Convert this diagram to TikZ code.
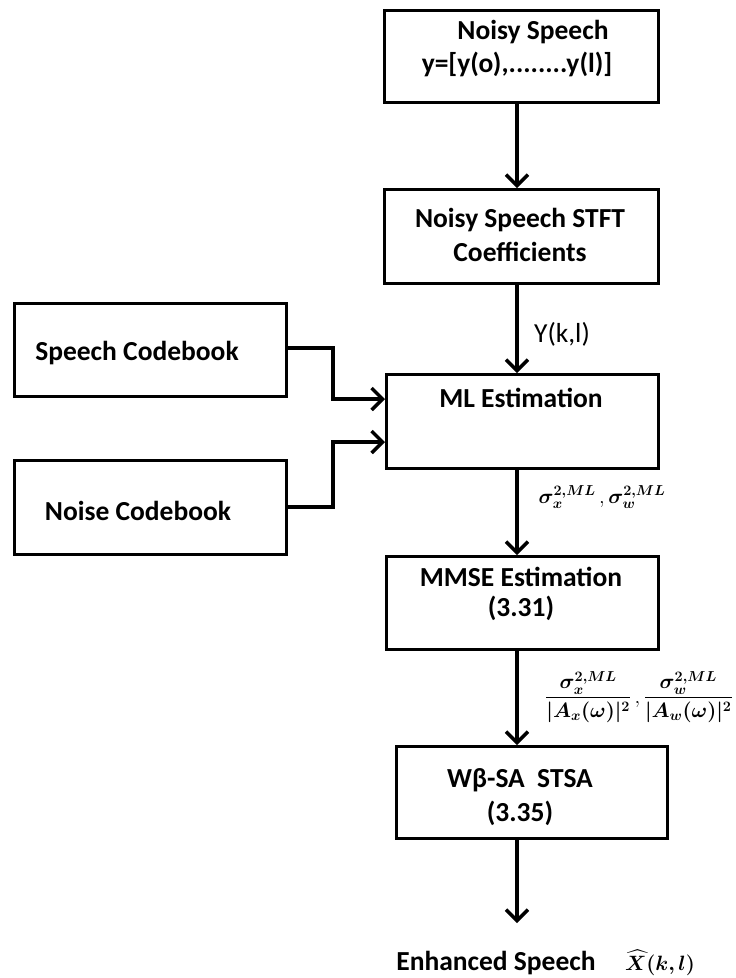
\documentclass[tikz,border=0pt]{standalone}
\usepackage{amsmath}
\usepackage{bm}
\usepackage{fontspec}
\setmainfont{Carlito}
\usetikzlibrary{arrows.meta}
\begin{document}
\begin{tikzpicture}[x=1pt,y=-1pt,
  box/.style={draw=black,line width=3.4pt,inner sep=0pt,anchor=north west},
  lbl/.style={font=\fontsize{27.5}{33}\selectfont\bfseries,align=center,inner sep=0pt},
  conn/.style={line width=3.4pt,-{Straight Barb[length=11pt,width=22pt,line width=3.4pt]}}]
\useasboundingbox (0,0) rectangle (736,978);
% boxes
\node[box,minimum width=274pt,minimum height=92pt] (n1) at (383,9) {};
\node[box,minimum width=274pt,minimum height=94pt] (n2) at (383,188) {};
\node[box,minimum width=272pt,minimum height=94pt] (ml) at (385,373) {};
\node[box,minimum width=272pt,minimum height=93pt] (mmse) at (385,555) {};
\node[box,minimum width=271pt,minimum height=92pt] (wb) at (395,745) {};
\node[box,minimum width=272pt,minimum height=93pt] (sc) at (13,302) {};
\node[box,minimum width=272pt,minimum height=94pt] (nc) at (13,459) {};
% texts
\node[lbl] (t1a) at (533,32) {Noisy Speech};
\node[lbl] (t1b) at (517,64) {y=[y(o),........y(l)]};
\node[lbl] (t2a) at (520,220) {Noisy Speech STFT};
\node[lbl] (t2b) at (520,252) {Coefficients};
\node[lbl] (t3) at (521,398) {ML Estimation};
\node[lbl] (t4a) at (521,577) {MMSE Estimation};
\node[lbl] (t4b) at (521,608) {(3.31)};
\node[lbl] (t5a) at (520,780) {Wβ-SA\ \ STSA};
\node[lbl] (t5b) at (520,813) {(3.35)};
\node[lbl] (t6) at (137,353) {Speech Codebook};
\node[lbl] (t7) at (138,511) {Noise Codebook};
\node[lbl] (t8) at (496,963) {Enhanced Speech};
% edge labels
\node[inner sep=0pt,font=\fontsize{27.5}{33}\selectfont] (yk) at (562,334) {Y(k,l)};
\node[inner sep=0pt,font=\fontsize{20.5}{24}\selectfont] (sig) at (602,497) {$\bm{\sigma_x^{2,ML}}\,,\bm{\sigma_w^{2,ML}}$};
\node[inner sep=0pt,font=\fontsize{20.5}{24}\selectfont] (frac) at (639,697) {$\dfrac{\bm{\sigma_x^{2,ML}}}{\bm{|A_x(\omega)|^2}}\,,\dfrac{\bm{\sigma_w^{2,ML}}}{\bm{|A_w(\omega)|^2}}$};
\node[inner sep=0pt,font=\fontsize{21}{25}\selectfont] (xh) at (660,963) {$\bm{\widehat{X}(k,l)}$};
% connectors
\coordinate (out) at (517,923);
\draw[conn] (n1.south -| out) -- (n2.north -| out);
\draw[conn] (n2.south -| out) -- (ml.north -| out);
\draw[conn] (ml.south -| out) -- (mmse.north -| out);
\draw[conn] (mmse.south -| out) -- (wb.north -| out);
\draw[conn] (wb.south -| out) -- (out);
\coordinate (j1) at (333,348);
\coordinate (j2) at (333,399);
\coordinate (k1) at (333,507);
\coordinate (k2) at (333,442);
\draw[conn] (sc.east |- j1) -- (j1) -- (j2) -- (ml.west |- j2);
\draw[conn] (nc.east |- k1) -- (k1) -- (k2) -- (ml.west |- k2);
\end{tikzpicture}
\end{document}
